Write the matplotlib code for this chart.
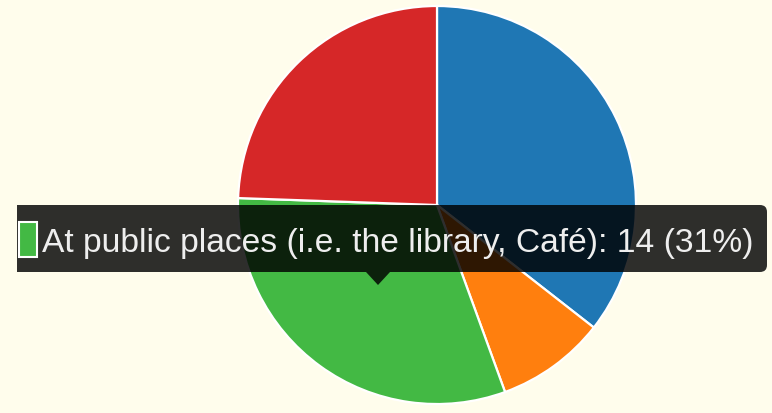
import matplotlib
matplotlib.use("Agg")
import matplotlib.pyplot as plt
from matplotlib.patches import FancyBboxPatch, Polygon, Rectangle

# answers per category, drawn clockwise from 12 o'clock
values = [16, 4, 14, 11]
colors = ["#1f77b4", "#ff7f0e", "#43b944", "#d62728"]
hovered = 2
hover_label = "At public places (i.e. the library, Café)"

W, H = 772, 414
BG = "#fffdec"

fig = plt.figure(figsize=(W / 100, H / 100), dpi=100, facecolor=BG)
ax = fig.add_axes([0, 0, 1, 1])
ax.set_facecolor(BG)

# hovered slice pops out a little
explode = [0.0] * len(values)
explode[hovered] = 0.035
ax.pie(values, colors=colors, startangle=90, counterclock=False,
       center=(437, H - 206), radius=199, explode=explode,
       wedgeprops=dict(edgecolor="white", linewidth=1.6), frame=True)
ax.set_xlim(0, W)
ax.set_ylim(0, H)
ax.axis("off")

# tooltip
total = sum(values)
pct = round(100 * values[hovered] / total)
tip_text = f"{hover_label}: {values[hovered]} ({pct}%)"

x0, x1 = 17, 767
top, bot = H - 206, H - 273
box = FancyBboxPatch((x0 - 10, bot), (x1 - x0) + 10, top - bot,
                     boxstyle="round,pad=0,rounding_size=7",
                     facecolor="black", alpha=0.82, edgecolor="none", zorder=5)
ax.add_patch(box)
clip = Rectangle((x0, 0), W, H, transform=ax.transData, visible=False)
ax.add_patch(clip)
box.set_clip_path(clip)

caret = Polygon([(366, bot), (390, bot), (378, bot - 13)], closed=True,
                facecolor="black", alpha=0.82, edgecolor="none", zorder=5)
ax.add_patch(caret)

ax.add_patch(Rectangle((19, H - 258), 18, 35, facecolor=colors[hovered],
                       edgecolor="white", linewidth=1.5, zorder=6))

txt = ax.text(42, H - 252, tip_text, color="#eeeeee", fontsize=20,
              family="Liberation Sans", va="baseline", ha="left", zorder=7)
fig.canvas.draw()
w = txt.get_window_extent().width
txt.set_fontsize(20 * 712 / w)

fig.savefig("out.png", dpi=100, facecolor=BG)
